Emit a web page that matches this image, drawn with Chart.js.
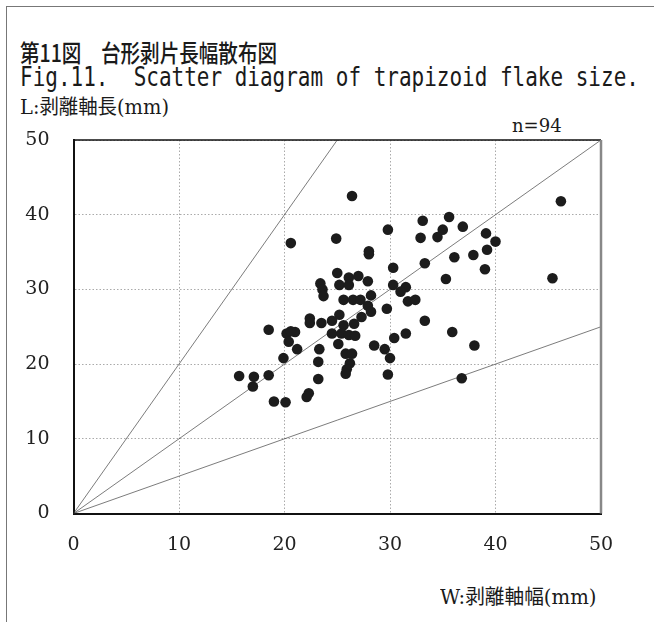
<!DOCTYPE html>
<html>
<head>
<meta charset="utf-8">
<script src="https://cdn.jsdelivr.net/npm/chart.js@4"></script>
<style>
    body { margin: 0; width: 654px; height: 622px; position: relative; background: #fff; overflow: hidden; }
    #frame { position: absolute; left: 6px; top: 6px; width: 700px; height: 700px; border-left: 1.5px solid #777; border-top: 1.5px solid #777; }
    .txt { position: absolute; white-space: nowrap; color: #1a1a1a; transform-origin: left top; }
    #title1 { left: 20px; top: 34px; font-size: 24px; font-weight: 500; font-family: "Noto Sans CJK JP", sans-serif; transform: scaleX(0.815); }
    #title2 { left: 20px; top: 61px; font-size: 27px; font-family: "DejaVu Sans Mono", monospace; transform: scaleX(0.777); }
    #ylabel { left: 20px; top: 91px; font-size: 20px; font-family: "DejaVu Serif", "Noto Sans CJK JP", serif; transform: scaleX(0.97); }
    #nlabel { left: 512px; top: 114px; font-size: 19px; font-family: "DejaVu Serif", serif; transform: scaleX(0.95); }
    #xlabel { left: 440px; top: 580px; font-size: 20.5px; font-family: "DejaVu Serif", "Noto Sans CJK JP", serif; transform: scaleX(0.96); }
    #chart { position: absolute; left: 0; top: 0; }
</style>
</head>
<body>
<div id="frame"></div>
<div class="txt" id="title1">第11図　台形剥片長幅散布図</div>
<div class="txt" id="title2">Fig.11.&nbsp;&nbsp;Scatter diagram of trapizoid flake size.</div>
<div class="txt" id="ylabel">L:剥離軸長(mm)</div>
<div class="txt" id="nlabel">n=94</div>
<div class="txt" id="xlabel">W:剥離軸幅(mm)</div>
<canvas id="chart" width="654" height="622"></canvas>
<script>
// 剥離軸幅 W (mm)
const flakeW = [
    26.4, 20.6, 24.9, 25.0, 23.4, 23.6, 23.7, 25.2, 26.1, 26.1,
    27.0, 27.9, 25.6, 26.5, 27.2, 28.2, 27.9, 28.2, 27.3, 29.7,
    26.6, 25.6, 25.2, 24.5, 23.5, 22.4, 22.4, 24.5, 25.4, 26.1,
    26.7, 25.1, 23.3, 23.2, 23.2, 25.8, 26.4, 26.2, 25.9, 25.8,
    28.5, 29.5, 30.4, 31.5, 33.3, 35.9, 30.0, 29.8, 36.8, 18.5,
    20.2, 21.0, 20.4, 21.2, 19.9, 15.7, 17.1, 17.0, 18.5, 19.0,
    20.1, 22.3, 22.1, 29.8, 33.1, 32.9, 35.6, 35.0, 34.5, 36.9,
    28.0, 28.0, 30.3, 33.3, 36.1, 35.3, 30.3, 31.5, 31.0, 31.7,
    32.4, 39.1, 40.0, 39.2, 37.9, 39.0, 46.2, 45.4, 38.0, 20.6
];
// 剥離軸長 L (mm)
const flakeL = [
    42.5, 36.2, 36.8, 32.2, 30.8, 30.0, 29.1, 30.6, 31.6, 30.6,
    31.8, 31.1, 28.6, 28.6, 28.6, 29.2, 27.8, 27.0, 26.3, 27.4,
    25.4, 25.2, 26.6, 25.8, 25.5, 26.1, 25.5, 24.1, 24.1, 23.9,
    23.8, 22.7, 22.0, 20.3, 18.0, 21.4, 21.4, 20.1, 19.3, 18.7,
    22.5, 22.0, 23.5, 24.1, 25.8, 24.3, 20.8, 18.6, 18.1, 24.6,
    24.1, 24.3, 23.0, 22.0, 20.8, 18.4, 18.3, 17.0, 18.5, 15.0,
    14.9, 16.1, 15.6, 38.0, 39.2, 36.9, 39.7, 38.0, 37.0, 38.4,
    35.1, 34.7, 32.9, 33.5, 34.3, 31.4, 30.6, 30.3, 29.7, 28.4,
    28.6, 37.5, 36.4, 35.3, 34.6, 32.7, 41.8, 31.5, 22.5, 24.4
];
// 補助線 L/W = 2, 1, 1/2 の終点
const guideEnds = [[25, 50], [50, 50], [50, 25]];
const axisMin = 0;
const axisMax = 50;
const axisStep = 10;

const points = flakeW.map((w, i) => ({ x: w, y: flakeL[i] }));

const datasets = [{
    type: 'scatter',
    data: points,
    backgroundColor: '#1c1c1c',
    borderWidth: 0,
    pointRadius: 5.3
}];
guideEnds.forEach(end => {
    datasets.push({
        type: 'line',
        data: [{ x: 0, y: 0 }, { x: end[0], y: end[1] }],
        borderColor: '#444',
        borderWidth: 0.7,
        pointRadius: 0,
        fill: false
    });
});

// 枠線（上・右）
const framePlugin = {
    id: 'frame',
    afterDraw(chart) {
        const a = chart.chartArea;
        const ctx = chart.ctx;
        ctx.save();
        ctx.strokeStyle = '#111';
        ctx.lineWidth = 1.5;
        ctx.beginPath();
        ctx.moveTo(a.left, a.top);
        ctx.lineTo(a.right, a.top);
        ctx.stroke();
        ctx.strokeStyle = '#888';
        ctx.lineWidth = 2.5;
        ctx.beginPath();
        ctx.moveTo(a.right, a.top);
        ctx.lineTo(a.right, a.bottom);
        ctx.stroke();
        ctx.restore();
    }
};

const tickFont = { family: '"DejaVu Serif", serif', size: 19 };

new Chart(document.getElementById('chart'), {
    type: 'scatter',
    data: { datasets: datasets },
    plugins: [framePlugin],
    options: {
        responsive: false,
        animation: false,
        layout: { padding: { left: 0, top: 140, right: 53, bottom: 0 } },
        plugins: {
            legend: { display: false },
            tooltip: { enabled: false }
        },
        scales: {
            x: {
                type: 'linear',
                min: axisMin,
                max: axisMax,
                afterFit(scale) { scale.height = 108.5; },
                ticks: { stepSize: axisStep, padding: 20, color: '#222', font: tickFont },
                grid: { color: '#aaa', lineWidth: 1, drawTicks: false },
                border: { color: '#111', width: 2, dash: [1.5, 2] }
            },
            y: {
                type: 'linear',
                min: axisMin,
                max: axisMax,
                afterFit(scale) { scale.width = 73.5; },
                ticks: { stepSize: axisStep, padding: 24, color: '#222', font: tickFont },
                grid: { color: '#aaa', lineWidth: 1, drawTicks: false },
                border: { color: '#111', width: 2, dash: [1.5, 2] }
            }
        }
    }
});
</script>
</body>
</html>
